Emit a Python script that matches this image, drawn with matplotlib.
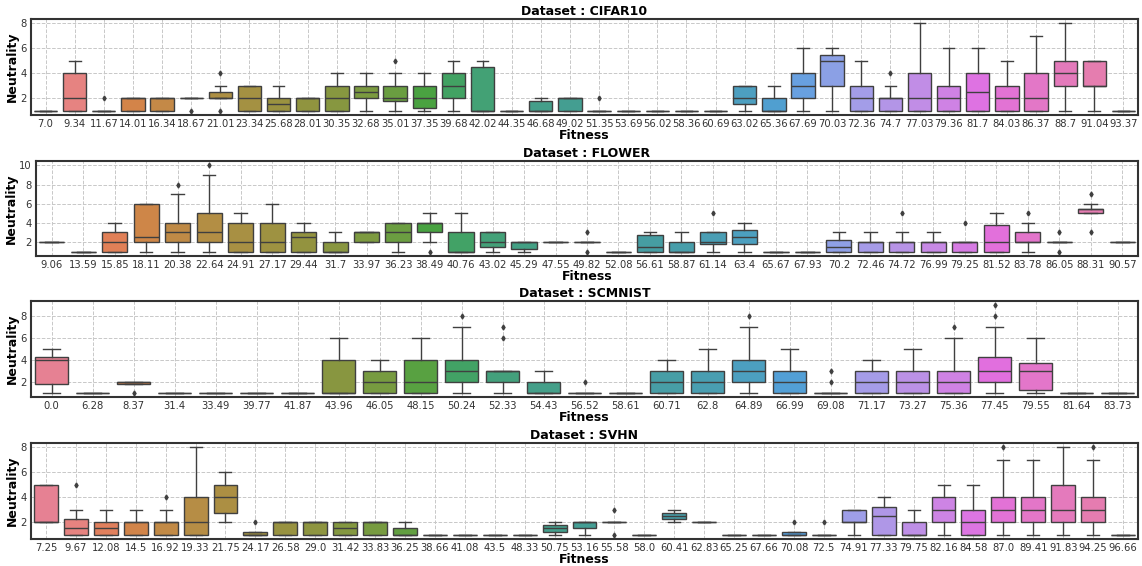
"""Neutrality vs fitness box plots for four datasets."""

import colorsys

import matplotlib

matplotlib.use("Agg")
import matplotlib.pyplot as plt
import seaborn as sns
from matplotlib.ticker import MultipleLocator

# ---- CIFAR10 ----
cifar_fitness = ["7.0", "9.34", "11.67", "14.01", "16.34", "18.67", "21.01", "23.34", "25.68", "28.01",
                 "30.35", "32.68", "35.01", "37.35", "39.68", "42.02", "44.35", "46.68", "49.02", "51.35",
                 "53.69", "56.02", "58.36", "60.69", "63.02", "65.36", "67.69", "70.03", "72.36", "74.7",
                 "77.03", "79.36", "81.7", "84.03", "86.37", "88.7", "91.04", "93.37"]
cifar_q1 = [1, 1, 1, 1, 1, 2, 2, 1, 1, 1, 1, 2, 1.75, 1.25, 2, 1, 1, 1, 1, 1,
            1, 1, 1, 1, 1.5, 1, 2, 3, 1, 1, 1, 1, 1, 1, 1, 3, 3, 1]
cifar_med = [1, 2, 1, 2, 2, 2, 2, 2, 1.5, 2, 2, 2.5, 2, 2, 3, 1, 1, 1, 2, 1,
             1, 1, 1, 1, 2, 1, 3, 5, 2, 2, 2, 2, 2.5, 2, 2, 4, 3, 1]
cifar_q3 = [1, 4, 1, 2, 2, 2, 2.5, 3, 2, 2, 3, 3, 3, 3, 4, 4.5, 1, 1.75, 2, 1,
            1, 1, 1, 1, 3, 2, 4, 5.5, 3, 2, 4, 3, 4, 3, 4, 5, 5, 1]
cifar_lo = [1, 1, 1, 1, 1, 2, 2, 1, 1, 1, 1, 1, 1, 1, 1, 1, 1, 1, 1, 1,
            1, 1, 1, 1, 1, 1, 1, 1, 1, 1, 1, 1, 1, 1, 1, 1, 1, 1]
cifar_hi = [1, 5, 1, 2, 2, 2, 3, 3, 3, 2, 4, 4, 4, 4, 5, 5, 1, 2, 2, 1,
            1, 1, 1, 1, 3, 3, 6, 6, 5, 3, 8, 6, 6, 5, 7, 8, 5, 1]
cifar_fliers = [[], [], [2], [], [], [1], [4, 1], [], [], [], [], [], [5], [], [], [], [], [], [], [2],
                [], [], [], [], [], [], [], [], [], [4], [], [], [], [], [], [], [], []]

# ---- FLOWER ----
flower_fitness = ["9.06", "13.59", "15.85", "18.11", "20.38", "22.64", "24.91", "27.17", "29.44", "31.7",
                  "33.97", "36.23", "38.49", "40.76", "43.02", "45.29", "47.55", "49.82", "52.08", "56.61",
                  "58.87", "61.14", "63.4", "65.67", "67.93", "70.2", "72.46", "74.72", "76.99", "79.25",
                  "81.52", "83.78", "86.05", "88.31", "90.57"]
flower_q1 = [2, 1, 1, 2, 2, 2, 1, 1, 1, 1, 2, 2, 3, 1, 1.5, 1.25, 2, 2, 1, 1,
             1, 1.75, 1.75, 1, 1, 1, 1, 1, 1, 1, 1, 2, 2, 5, 2]
flower_med = [2, 1, 2, 2.5, 3, 3, 2, 2, 2.5, 1, 3, 3, 4, 1, 2, 2, 2, 2, 1, 1.5,
              1, 2, 2.5, 1, 1, 1.5, 2, 2, 2, 2, 2, 2, 2, 5.5, 2]
flower_q3 = [2, 1, 3, 6, 4, 5, 4, 4, 3, 2, 3, 4, 4, 3, 3, 2, 2, 2, 1, 2.75,
             2, 3, 3.25, 1, 1, 2.25, 2, 2, 2, 2, 3.75, 3, 2, 5.5, 2]
flower_lo = [2, 1, 1, 1, 1, 1, 1, 1, 1, 1, 2, 1, 2, 1, 1, 1, 2, 2, 1, 1,
             1, 1, 1, 1, 1, 1, 1, 1, 1, 1, 1, 1, 2, 5, 2]
flower_hi = [2, 1, 4, 6, 7, 9, 5, 6, 4, 3, 3, 4, 5, 5, 3, 2, 2, 2, 1, 3,
             3, 3, 4, 1, 1, 3, 3, 3, 3, 2, 5, 4, 2, 6, 2]
flower_fliers = [[], [], [], [], [8], [10], [], [], [], [], [], [], [1], [], [], [], [], [1, 3], [], [],
                 [], [5], [], [], [], [], [], [5], [], [4], [], [5], [1, 3], [7, 3], []]

# ---- SCMNIST ----
scmnist_fitness = ["0.0", "6.28", "8.37", "31.4", "33.49", "39.77", "41.87", "43.96", "46.05", "48.15",
                   "50.24", "52.33", "54.43", "56.52", "58.61", "60.71", "62.8", "64.89", "66.99", "69.08",
                   "71.17", "73.27", "75.36", "77.45", "79.55", "81.64", "83.73"]
scmnist_q1 = [1.75, 1, 1.75, 1, 1, 1, 1, 1, 1, 1, 2, 2, 1, 1, 1, 1, 1, 2, 1, 1,
              1, 1, 1, 2, 1.25, 1, 1]
scmnist_med = [4, 1, 2, 1, 1, 1, 1, 1, 2, 2, 3, 3, 1, 1, 1, 2, 2, 3, 2, 1,
               2, 2, 2, 3, 3, 1, 1]
scmnist_q3 = [4.25, 1, 2, 1, 1, 1, 1, 4, 3, 4, 4, 3, 2, 1, 1, 3, 3, 4, 3, 1,
              3, 3, 3, 4.25, 3.75, 1, 1]
scmnist_lo = [1, 1, 1.75, 1, 1, 1, 1, 1, 1, 1, 1, 1, 1, 1, 1, 1, 1, 1, 1, 1,
              1, 1, 1, 1, 1, 1, 1]
scmnist_hi = [5, 1, 2, 1, 1, 1, 1, 6, 4, 6, 7, 3, 3, 1, 1, 4, 5, 7, 5, 1,
              4, 5, 6, 7, 6, 1, 1]
scmnist_fliers = [[], [], [1], [], [], [], [], [], [], [], [8], [6, 7], [], [2], [], [], [], [8], [], [2, 3],
                  [], [], [7], [8, 9], [], [], []]

# ---- SVHN ----
svhn_fitness = ["7.25", "9.67", "12.08", "14.5", "16.92", "19.33", "21.75", "24.17", "26.58", "29.0",
                "31.42", "33.83", "36.25", "38.66", "41.08", "43.5", "48.33", "50.75", "53.16", "55.58",
                "58.0", "60.41", "62.83", "65.25", "67.66", "70.08", "72.5", "74.91", "77.33", "79.75",
                "82.16", "84.58", "87.0", "89.41", "91.83", "94.25", "96.66"]
svhn_q1 = [2, 1, 1, 1, 1, 1, 2.75, 1, 1, 1, 1, 1, 1, 1, 1, 1, 1, 1.25, 1.5, 2,
           1, 2.25, 2, 1, 1, 1, 1, 2, 1, 1, 2, 1, 2, 2, 2, 2, 1]
svhn_med = [2, 1.5, 1.5, 2, 2, 2, 4, 1, 2, 2, 1.5, 2, 1, 1, 1, 1, 1, 1.5, 2, 2,
            1, 2.5, 2, 1, 1, 1, 1, 2, 2.5, 1, 3, 2, 3, 3, 3, 3, 1]
svhn_q3 = [5, 2.25, 2, 2, 2, 4, 5, 1.25, 2, 2, 2, 2, 1.5, 1, 1, 1, 1, 1.75, 2, 2,
           1, 2.75, 2, 1, 1, 1.25, 1, 3, 3.25, 2, 4, 3, 4, 4, 5, 4, 1]
svhn_lo = [2, 1, 1, 1, 1, 1, 2, 1, 1, 1, 1, 1, 1, 1, 1, 1, 1, 1, 1, 2,
           1, 2, 2, 1, 1, 1, 1, 1, 1, 1, 1, 1, 1, 1, 1, 1, 1]
svhn_hi = [5, 3, 3, 3, 3, 8, 6, 1.25, 2, 2, 2, 2, 2, 1, 1, 1, 1, 2, 2, 2,
           1, 3, 2, 1, 1, 1.25, 1, 3, 4, 3, 5, 5, 7, 7, 8, 7, 1]
svhn_fliers = [[], [5], [], [], [4], [], [], [2], [], [], [], [], [], [], [], [], [], [], [], [1, 3],
               [], [], [], [], [], [2], [2], [], [], [], [], [], [8], [], [], [8], []]

PANELS = [
    ("CIFAR10", cifar_fitness, cifar_q1, cifar_med, cifar_q3, cifar_lo, cifar_hi, cifar_fliers),
    ("FLOWER", flower_fitness, flower_q1, flower_med, flower_q3, flower_lo, flower_hi, flower_fliers),
    ("SCMNIST", scmnist_fitness, scmnist_q1, scmnist_med, scmnist_q3, scmnist_lo, scmnist_hi, scmnist_fliers),
    ("SVHN", svhn_fitness, svhn_q1, svhn_med, svhn_q3, svhn_lo, svhn_hi, svhn_fliers),
]

# axes boxes in pixels: left, top, bottom
AXES_PX = [(31, 19, 115), (36, 161, 256), (31, 301, 397), (31, 443, 539)]
FIG_W, FIG_H = 1142, 566


def _draw_panel(ax, name, fitness, q1, med, q3, lo, hi, fliers):
    n = len(fitness)
    palette = sns.color_palette("husl", n)
    colors = [sns.desaturate(c, 0.75) for c in palette]
    lum = min(colorsys.rgb_to_hls(*c)[1] for c in colors) * 0.6
    gray = (lum, lum, lum)

    stats = [
        {"q1": q1[i], "med": med[i], "q3": q3[i], "whislo": lo[i], "whishi": hi[i], "fliers": fliers[i]}
        for i in range(n)
    ]
    parts = ax.bxp(
        stats,
        positions=range(n),
        widths=0.8,
        patch_artist=True,
        showfliers=True,
        boxprops={"edgecolor": gray, "linewidth": 1.0},
        whiskerprops={"color": gray, "linewidth": 1.0},
        capprops={"color": gray, "linewidth": 1.0},
        medianprops={"color": gray, "linewidth": 1.0},
        flierprops={"marker": "d", "markersize": 2.5, "markerfacecolor": gray,
                    "markeredgecolor": gray, "linestyle": "none"},
        zorder=2,
    )
    for patch, color in zip(parts["boxes"], colors):
        patch.set_facecolor(color)

    ax.set_xlim(-0.5, n - 0.5)
    ax.set_xticks(range(n))
    ax.set_xticklabels(fitness)
    ax.yaxis.set_major_locator(MultipleLocator(2))
    ax.set_title(f"Dataset : {name}", fontsize=9, fontweight="bold", pad=3)
    ax.set_xlabel("Fitness", fontsize=9, fontweight="bold", labelpad=0)
    ax.set_ylabel("Neutrality", fontsize=9, fontweight="bold", labelpad=1)
    ax.tick_params(axis="both", labelsize=7.2, length=0, pad=3, colors="#333333")
    ax.grid(True, linestyle="--", color="#c8c8c8", linewidth=0.7, zorder=0)
    ax.set_axisbelow(True)
    for spine in ax.spines.values():
        spine.set_color("#333333")
        spine.set_linewidth(1.5)


def main() -> None:
    fig = plt.figure(figsize=(FIG_W / 100, FIG_H / 100), dpi=100)
    for (name, *data), (left, top, bottom) in zip(PANELS, AXES_PX):
        ax = fig.add_axes([left / FIG_W, 1 - bottom / FIG_H, (1138 - left) / FIG_W, (bottom - top) / FIG_H])
        _draw_panel(ax, name, *data)
    fig.savefig("out.png", dpi=100)
    plt.close(fig)


if __name__ == "__main__":
    main()
